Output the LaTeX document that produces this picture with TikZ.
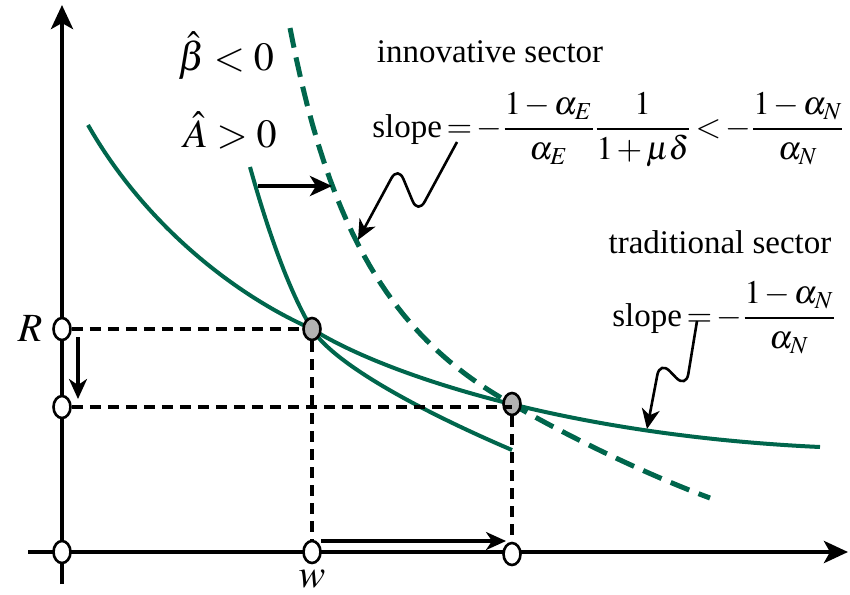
\documentclass[tikz,border=0pt]{standalone}
\usepackage{mathptmx}
\usepackage[no-math]{fontspec}
\setmainfont{Liberation Serif}
\usetikzlibrary{arrows.meta,shapes.geometric,backgrounds,calc}
\definecolor{sectorgreen}{RGB}{0,102,76}
\newcommand{\tightmath}{\thickmuskip=2.5mu\medmuskip=2mu\nulldelimiterspace=1pt}
\tikzset{
    axis/.style={line width=2.3pt,-{Stealth[length=12pt,width=11pt,inset=3pt]}},
    curve/.style={sectorgreen,line width=2pt},
    shifted/.style={sectorgreen,line width=2.5pt,dash pattern=on 10pt off 5pt},
    guide/.style={line width=1.7pt,dash pattern=on 5.5pt off 3.5pt},
    move/.style={line width=1.6pt,-{Stealth[length=10pt,width=9pt,inset=3pt]}},
    squiggle/.style={line width=1.3pt,rounded corners=7pt,-{Stealth[length=10pt,width=9pt,inset=3pt]}},
    pt/.style={ellipse,draw,line width=1.3pt,fill=white,minimum width=8.5pt,minimum height=11pt,inner sep=0pt},
    eqpt/.style={pt,fill=gray!60},
    lbl/.style={font=\fontsize{16.5}{20}\selectfont\tightmath,inner sep=0pt},
    big/.style={font=\fontsize{20}{24}\selectfont,inner sep=0pt}
}
\begin{document}
\begin{tikzpicture}[x=0.5pt,y=-0.5pt]
    \useasboundingbox (0,0) rectangle (850,594);
    % points on the axes and the two equilibria
    \node[pt] (o) at (62,552) {};
    \node[pt] (r0) at (62,329) {};
    \node[pt] (r1) at (62,407) {};
    \node[pt] (w0) at (312,552) {};
    \node[pt] (w1) at (512,554) {};
    \node[eqpt] (e0) at (312,329) {};
    \node[eqpt] (e1) at (512,404) {};
    \node[big] (R) at (30,329) {$R$};
    \node[big] (w) at (312,579) {$w$};
    \begin{scope}[on background layer]
        \coordinate (ytop) at (62,5);
        \coordinate (xend) at (848,552);
        \draw[axis] (62,584) -- (ytop);
        \draw[axis] (28,552) -- (xend);
        % traditional sector
        \draw[curve] (88,125) .. controls (145,225) and (235,295) .. (e0.center)
            .. controls (380,372) and (560,435) .. (820,447);
        % innovative sector, before and after
        \draw[curve] (250,167) .. controls (262,210) and (285,285) .. (e0.center)
            .. controls (335,366) and (430,415) .. (512,450);
        \draw[shifted] plot[domain=290:512,samples=40] (\x,{585.9-100*(599.18/(\x-182.6))})
            .. controls (560,432) and (640,472) .. (710,498);
    \end{scope}
    \draw[guide] (r0) -- (e0) -- (w0);
    \draw[guide] (r1) -- (r1 -| e1);
    \draw[guide] (e1) -- (w1);
    \draw[move] ($(r0)+(16,8)$) -- ($(r1)+(16,-8)$);
    \draw[move] ($(w0)+(9,-11)$) -- ($(w1)+(-6,-13)$);
    \coordinate (s0) at (258,186);
    \coordinate (s1) at (332,186);
    \draw[line width=2.2pt,-{Stealth[length=11pt,width=10pt,inset=3pt]}] (s0) -- (s1);
    \node[big] (bhat) at (226,56) {$\hat{\beta}<0$};
    \node[big] (ahat) at (230,130) {$\hat{A}>0$};
    \node[lbl] (innov) at (490,52) {innovative sector};
    \node[lbl,anchor=west] (slopeE) at (372,130) {slope$\displaystyle{}=-\frac{1-\alpha_E}{\alpha_E}\frac{1}{1+\mu\delta}<-\frac{1-\alpha_N}{\alpha_N}$};
    \node[lbl] (trad) at (720,242) {traditional sector};
    \node[lbl,anchor=west] (slopeN) at (612,318) {slope$\displaystyle{}=-\frac{1-\alpha_N}{\alpha_N}$};
    \coordinate (q0) at (457,142);
    \coordinate (q1) at (358,240);
    \draw[squiggle] (q0) -- (418,214) -- (398,166) -- (q1);
    \coordinate (p0) at (697,321);
    \coordinate (p1) at (647,429);
    \draw[squiggle] (p0) -- (686,388) -- (660,361) -- (p1);
\end{tikzpicture}
\end{document}
